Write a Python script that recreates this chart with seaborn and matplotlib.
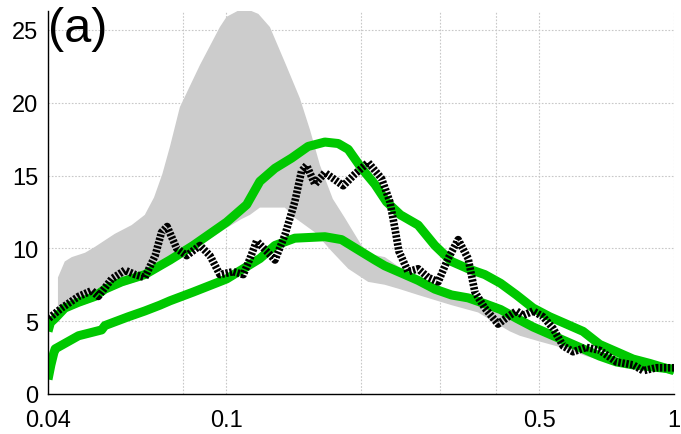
import numpy as np
import matplotlib
matplotlib.use("Agg")
import matplotlib.pyplot as plt
import seaborn as sns

sns.set_style("white")
plt.rcParams['font.family'] = ['Liberation Sans', 'DejaVu Sans']
plt.rcParams['text.color'] = 'black'

# -----------------------------------
# data
# -----------------------------------

# upper green curve
hi_x = [0.0400, 0.0405, 0.0415, 0.0436, 0.0468, 0.0509, 0.0536, 0.0584, 0.0658, 0.0711,
        0.0749, 0.0844, 0.1002, 0.1111, 0.1189, 0.1285, 0.1400, 0.1524, 0.1661, 0.1779,
        0.1873, 0.2006, 0.2148, 0.2280, 0.2450, 0.2683, 0.2924, 0.3186, 0.3470, 0.3780,
        0.4100, 0.4449, 0.4847, 0.5281, 0.5753, 0.6265, 0.6827, 0.7439, 0.8101, 0.8828, 1.0]
hi_y = [4.3, 4.9, 5.2, 5.9, 6.3, 6.7, 7.2, 7.7, 8.2, 8.8,
        9.2, 10.2, 11.8, 13.0, 14.6, 15.5, 16.2, 17.0, 17.3, 17.2,
        16.8, 15.5, 14.4, 13.2, 12.3, 11.6, 10.2, 9.1, 8.6, 8.2,
        7.6, 6.8, 5.9, 5.3, 4.8, 4.3, 3.4, 2.9, 2.4, 2.1, 1.6]

# lower green curve
lo_x = [0.0400, 0.0406, 0.0412, 0.0415, 0.0468, 0.0527, 0.0536, 0.0604, 0.0658, 0.0711,
        0.0749, 0.0844, 0.1002, 0.1189, 0.1285, 0.1423, 0.1661, 0.1810, 0.1971, 0.2148,
        0.2261, 0.2464, 0.2683, 0.2924, 0.3186, 0.3470, 0.3780, 0.4100, 0.4449, 0.4847,
        0.5281, 0.5753, 0.6265, 0.6827, 0.7439, 0.8101, 1.0]
lo_y = [1.0, 2.0, 2.8, 3.1, 4.0, 4.4, 4.7, 5.3, 5.7, 6.1,
        6.4, 7.0, 7.9, 9.3, 10.2, 10.7, 10.8, 10.6, 9.9, 9.2,
        8.8, 8.3, 7.8, 7.2, 6.8, 6.6, 6.2, 5.8, 5.2, 4.6,
        4.1, 3.6, 3.1, 2.6, 2.2, 2.0, 1.7]

# black dotted curve
obs_x = [0.0402, 0.0429, 0.0468, 0.0501, 0.0518, 0.0555, 0.0594, 0.0626, 0.0658, 0.0694,
         0.0717, 0.0738, 0.0775, 0.0816, 0.0874, 0.0920, 0.0968, 0.1037, 0.1092, 0.1130,
         0.1169, 0.1231, 0.1285, 0.1352, 0.1423, 0.1473, 0.1512, 0.1578, 0.1661, 0.1733,
         0.1825, 0.1938, 0.2075, 0.2223, 0.2320, 0.2380, 0.2430, 0.2548, 0.2683, 0.2825,
         0.2974, 0.3130, 0.3296, 0.3470, 0.3592, 0.3780, 0.4047, 0.4300, 0.4449, 0.4604,
         0.4847, 0.5103, 0.5372, 0.5654, 0.5951, 0.6375, 0.6827, 0.7439, 0.8101, 0.8531,
         0.9137, 1.0]
obs_y = [5.2, 5.9, 6.7, 7.1, 6.7, 7.9, 8.5, 8.2, 8.0, 9.5,
         11.1, 11.5, 10.0, 9.5, 10.2, 9.5, 8.2, 8.4, 8.2, 9.3,
         10.5, 9.8, 9.2, 10.9, 13.2, 15.3, 15.7, 14.4, 15.2, 14.8,
         14.3, 15.1, 15.9, 14.8, 13.2, 11.4, 9.8, 8.4, 8.6, 8.0,
         7.7, 9.3, 10.6, 9.3, 7.0, 5.9, 4.8, 5.4, 5.7, 5.4,
         5.7, 5.3, 4.5, 3.3, 2.9, 3.2, 3.0, 2.2, 2.0, 1.6,
         1.8, 1.8]

# gray band, upper edge
band_top_x = [0.0421, 0.0436, 0.0452, 0.0484, 0.0509, 0.0545, 0.0564, 0.0615, 0.0658, 0.0690,
              0.0720, 0.0749, 0.0788, 0.0874, 0.0968, 0.1002, 0.1060, 0.1118, 0.1180, 0.1252,
              0.1360, 0.1461, 0.1540, 0.1620, 0.1730, 0.1840, 0.2006, 0.2100, 0.2261, 0.2464,
              0.2683, 0.2924, 0.3186, 0.3470, 0.3780, 0.4100, 0.4449, 0.4847, 0.5281, 0.5753,
              0.6265, 0.6700]
band_top_y = [8.0, 9.1, 9.4, 9.7, 10.1, 10.7, 11.0, 11.6, 12.3, 13.5,
              15.1, 17.0, 19.7, 22.6, 25.2, 25.9, 26.3, 26.4, 26.1, 25.2,
              22.6, 20.3, 18.1, 15.7, 13.4, 12.1, 10.2, 9.6, 9.4, 8.6,
              8.1, 7.5, 7.0, 6.8, 6.4, 5.9, 5.3, 4.7, 4.2, 3.7,
              3.1, 2.4]

# gray band, lower edge
band_bot_x = [0.0421, 0.0436, 0.0468, 0.0509, 0.0536, 0.0584, 0.0658, 0.0711, 0.0749, 0.0844,
              0.1002, 0.1080, 0.1130, 0.1189, 0.1285, 0.1352, 0.1423, 0.1578, 0.1720, 0.1873,
              0.2075, 0.2261, 0.2442, 0.2683, 0.3186, 0.3652, 0.3980, 0.4300, 0.4525, 0.5016,
              0.5753, 0.6375, 0.6700]
band_bot_y = [5.5, 5.6, 6.0, 6.4, 6.9, 7.4, 7.9, 8.5, 8.9, 9.9,
              11.4, 12.0, 12.3, 12.8, 12.8, 12.8, 12.1, 11.1, 9.8, 8.6,
              7.7, 7.5, 7.2, 6.8, 6.1, 5.6, 4.9, 4.3, 4.0, 3.6,
              3.1, 2.6, 2.4]

x_ticks = [0.04, 0.08, 0.1, 0.2, 0.3, 0.4, 0.5, 1.0]
x_tick_labels = ['0.04', '', '0.1', '', '', '', '0.5', '1']
y_ticks = [0, 5, 10, 15, 20, 25]

# -----------------------------------
# plot
# -----------------------------------

fig = plt.figure(figsize=(6.81, 4.35), dpi=100)
ax = fig.add_axes([48 / 681, 40 / 435, 626 / 681, 383 / 435])

# gray band as polygon
poly_x = np.concatenate([band_top_x, band_bot_x[::-1]])
poly_y = np.concatenate([band_top_y, band_bot_y[::-1]])
ax.fill(poly_x, poly_y, color='#cccccc', lw=0, zorder=1)

green = '#00c800'
sns.lineplot(x=hi_x, y=hi_y, ax=ax, color=green, linewidth=6.5, zorder=2,
             solid_capstyle='butt', solid_joinstyle='round')
sns.lineplot(x=lo_x, y=lo_y, ax=ax, color=green, linewidth=6.5, zorder=2,
             solid_capstyle='butt', solid_joinstyle='round')
sns.lineplot(x=obs_x, y=obs_y, ax=ax, color='black', linewidth=5.5, zorder=3,
             linestyle=(0, (0.32, 0.2)), dash_capstyle='butt')

ax.set_xscale('log')
ax.set_xlim(0.04, 1.0)
ax.set_ylim(0, 26.3)

ax.set_xticks(x_ticks)
ax.set_xticklabels(x_tick_labels)
ax.minorticks_off()
ax.set_yticks(y_ticks)
ax.set_yticklabels([str(v) for v in y_ticks])
ax.tick_params(axis='both', direction='in', length=5, width=1, colors='#222222',
               labelsize=17, labelcolor='black')
ax.tick_params(axis='x', pad=11)
ax.tick_params(axis='y', pad=7)

ax.grid(True, which='major', linestyle=(0, (1.5, 1.5)), color='#c8c8c8', linewidth=0.8)
ax.set_axisbelow(True)

for side in ['top', 'right']:
    ax.spines[side].set_visible(False)
for side in ['left', 'bottom']:
    ax.spines[side].set_color('black')
    ax.spines[side].set_linewidth(1.0)

ax.set_xlabel('')
ax.set_ylabel('')

fig.text(48 / 681, 1 - 7 / 435, '(a)', fontsize=35, color='black', ha='left', va='top')

fig.savefig('out.png', dpi=100)
